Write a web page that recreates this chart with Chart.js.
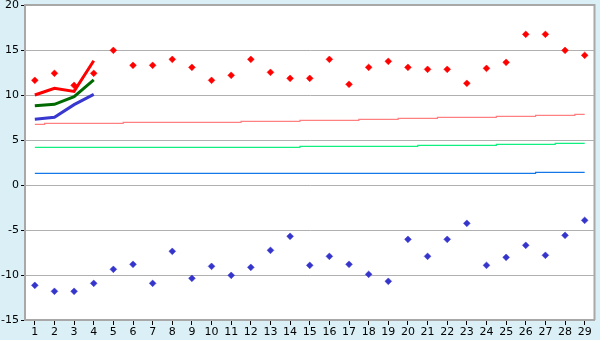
<!DOCTYPE html>
<html><head><meta charset="utf-8">
<script src="https://cdn.jsdelivr.net/npm/chart.js@4/dist/chart.umd.min.js"></script>
<style>html,body{margin:0;padding:0;background:#daf0f6;}#wrap{width:600px;height:340px;}</style>
</head><body><div id="wrap"><canvas id="c" width="600" height="340"></canvas></div>
<script>
const categories = ['1','2','3','4','5','6','7','8','9','10','11','12','13','14','15','16','17','18','19','20','21','22','23','24','25','26','27','28','29'];
const redPoints = [11.63,12.41,11.07,12.41,14.96,13.3,13.3,13.96,13.07,11.63,12.19,13.96,12.52,11.85,11.85,13.96,11.19,13.07,13.74,13.07,12.85,12.85,11.3,12.96,13.63,16.74,16.74,14.96,14.41];
const bluePoints = [-11.15,-11.81,-11.81,-10.93,-9.37,-8.81,-10.93,-7.37,-10.37,-9.04,-10.04,-9.15,-7.26,-5.7,-8.93,-7.93,-8.81,-9.93,-10.7,-6.04,-7.93,-6.04,-4.26,-8.93,-8.04,-6.7,-7.81,-5.59,-3.93];
const redLine = [10.0,10.75,10.4,13.8];
const greenLine = [8.81,8.96,9.81,11.67];
const blueLine = [7.3,7.52,8.93,10.07];
const pinkLevel = [6.74,6.85,6.85,6.85,6.85,6.96,6.96,6.96,6.96,6.96,6.96,7.08,7.08,7.08,7.19,7.19,7.19,7.30,7.30,7.41,7.41,7.52,7.52,7.52,7.63,7.63,7.74,7.74,7.85];
const greenLevel = [4.19,4.19,4.19,4.19,4.19,4.19,4.19,4.19,4.19,4.19,4.19,4.19,4.19,4.19,4.30,4.30,4.30,4.30,4.30,4.30,4.41,4.41,4.41,4.41,4.52,4.52,4.52,4.63,4.63];
const blueLevel = [1.3,1.3,1.3,1.3,1.3,1.3,1.3,1.3,1.3,1.3,1.3,1.3,1.3,1.3,1.3,1.3,1.3,1.3,1.3,1.3,1.3,1.3,1.3,1.3,1.3,1.3,1.41,1.41,1.41];
const yTicks = [-15,-10,-5,0,5,10,15,20];

const bgPlugin = {
  id:'bg',
  beforeDraw(chart){
    const {ctx, chartArea:a} = chart;
    ctx.save();
    ctx.fillStyle='#daf0f6'; ctx.fillRect(0,0,chart.width,chart.height);
    ctx.fillStyle='#ffffff'; ctx.fillRect(a.left,a.top,a.right-a.left,a.bottom-a.top);
    ctx.restore();
  },
  afterDatasetsDraw(chart){
    const {ctx, chartArea:a} = chart;
    ctx.save();
    ctx.strokeStyle='#a8a8a8'; ctx.lineWidth=2;
    ctx.beginPath();
    ctx.moveTo(a.left, a.top); ctx.lineTo(a.right, a.top); ctx.lineTo(a.right, a.bottom);
    ctx.stroke();
    ctx.restore();
  }
};

const lvl = (data,color)=>({type:'line',data,borderColor:color,borderWidth:1.2,pointRadius:0,stepped:'middle',fill:false,order:5});
const thick = (data,color)=>({type:'line',data,borderColor:color,borderWidth:3,pointRadius:0,tension:0,fill:false,order:3});
const pts = (data,color)=>({type:'line',data,showLine:false,pointStyle:'rectRot',pointRadius:3.4,pointBackgroundColor:color,pointBorderColor:color,pointBorderWidth:0.5,order:1});

new Chart(document.getElementById('c'),{
  type:'line',
  data:{labels:categories,datasets:[
    lvl(pinkLevel,'#ff8080'), lvl(greenLevel,'#10f080'), lvl(blueLevel,'#1478e8'),
    thick(redLine,'#ff0000'), thick(greenLine,'#006a00'), thick(blueLine,'#3838d0'),
    pts(redPoints,'#ff0000'), pts(bluePoints,'#3535cc')
  ]},
  options:{
    responsive:false, animation:false, devicePixelRatio:1,
    layout:{autoPadding:false,padding:{top:5,right:5.5,left:0,bottom:0}},
    plugins:{legend:{display:false},tooltip:{enabled:false}},
    scales:{
      x:{offset:true,
        grid:{offset:false,drawOnChartArea:false,drawTicks:true,tickLength:5,color:'#000000',lineWidth:1},
        border:{color:'#a8a8a8',width:2},
        ticks:{color:'#000',font:{family:'DejaVu Sans',size:11},padding:1,maxRotation:0,autoSkip:false},
        afterFit(s){s.height=20;s.paddingLeft=0;s.paddingRight=0;}
      },
      y:{min:-15,max:20,
        afterBuildTicks(s){s.ticks=yTicks.map(v=>({value:v}));},
        grid:{color:'#b0b0b0',lineWidth:1,drawTicks:true,tickLength:4,tickColor:'#000'},
        border:{color:'#a8a8a8',width:2},
        ticks:{color:'#000',font:{family:'DejaVu Sans',size:11},padding:2},
        afterFit(s){s.width=25;s.paddingTop=0;s.paddingBottom=0;}
      }
    }
  },
  plugins:[bgPlugin]
});
</script></body></html>
